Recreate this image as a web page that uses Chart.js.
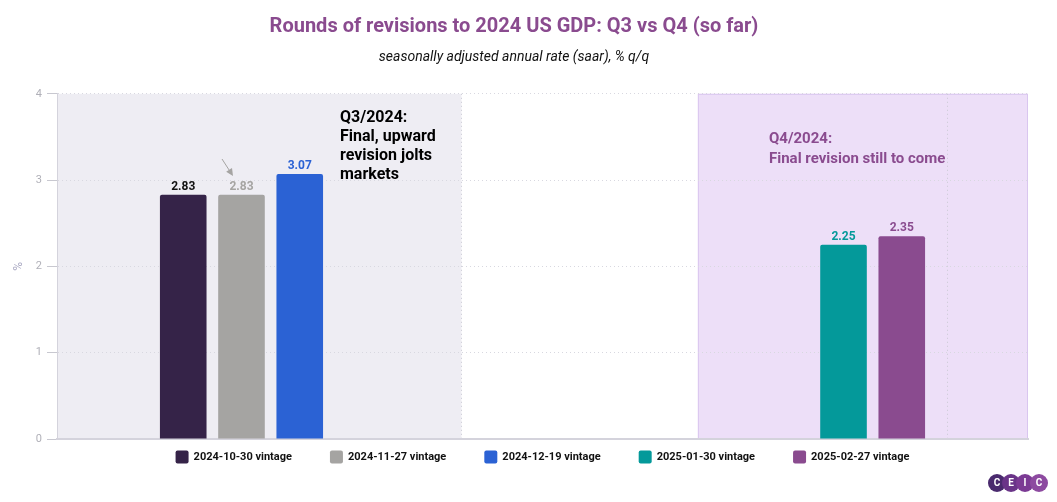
<!DOCTYPE html>
<html>
<head>
<meta charset="utf-8">
<script src="https://cdn.jsdelivr.net/npm/chart.js@4"></script>
<style>
  html, body { margin: 0; padding: 0; background: #fff; }
  #wrap { width: 1057px; height: 502px; }
</style>
</head>
<body>
<div id="wrap"><canvas id="myChart"></canvas></div>
<script>
// data
const quarters = ['Q3/2024', 'Q4/2024'];
const vintages = ['2024-10-30 vintage', '2024-11-27 vintage', '2024-12-19 vintage', '2025-01-30 vintage', '2025-02-27 vintage'];
const q3Values = [2.83, 2.83, 3.07, null, null];
const q4Values = [null, null, null, 2.25, 2.35];
const barColors = ['#352348', '#a5a4a2', '#2b62d4', '#04999a', '#8a4b8f'];
const labelColors = ['#111111', '#a5a4a2', '#2b62d4', '#04999a', '#8a4b8f'];
const yTicks = [0, 1, 2, 3, 4];

const FONT = 'Roboto, "Noto Sans", sans-serif';

const datasets = vintages.map((name, i) => ({
  label: name,
  data: [q3Values[i], q4Values[i]],
  backgroundColor: barColors[i],
  borderRadius: 2,
  borderSkipped: 'bottom',
  barPercentage: 0.8,
  categoryPercentage: 0.6
}));

// shaded quarter boxes + vertical dotted lines, drawn under the grid
const backdrop = {
  id: 'backdrop',
  beforeDraw(chart) {
    const { ctx, chartArea: a, scales: { x } } = chart;
    const q3Right = x.getPixelForValue(0.333);
    const q4Left = x.getPixelForValue(0.82);
    ctx.save();
    ctx.fillStyle = '#eeedf3';
    ctx.fillRect(a.left, a.top, q3Right - a.left, a.bottom - a.top);
    ctx.fillStyle = '#eddff8';
    ctx.fillRect(q4Left, a.top, a.right - q4Left, a.bottom - a.top);
    ctx.strokeStyle = '#d9c6ef';
    ctx.lineWidth = 1;
    ctx.strokeRect(q4Left + 0.5, a.top + 0.5, a.right - q4Left - 1, a.bottom - a.top - 1);

    ctx.setLineDash([1, 3]);
    ctx.strokeStyle = '#c9c9d3';
    [0.333, 1.333].forEach(v => {
      const px = Math.round(x.getPixelForValue(v)) + 0.5;
      ctx.beginPath();
      ctx.moveTo(px, a.top);
      ctx.lineTo(px, a.bottom);
      ctx.stroke();
    });
    ctx.restore();
  }
};

// value labels, notes, arrow, legend and logo
const overlay = {
  id: 'overlay',
  afterDatasetsDraw(chart) {
    const { ctx, chartArea: a } = chart;
    ctx.save();
    ctx.font = 'bold 12px ' + FONT;
    ctx.textAlign = 'center';
    ctx.textBaseline = 'bottom';
    chart.data.datasets.forEach((ds, i) => {
      const meta = chart.getDatasetMeta(i);
      meta.data.forEach((bar, j) => {
        const v = ds.data[j];
        if (v === null) return;
        ctx.fillStyle = labelColors[i];
        ctx.fillText(v.toFixed(2), bar.x, bar.y - 2);
      });
    });

    // notes
    ctx.textAlign = 'left';
    ctx.textBaseline = 'alphabetic';
    ctx.fillStyle = '#000';
    ctx.font = 'bold 16px ' + FONT;
    ['Q3/2024:', 'Final, upward', 'revision jolts', 'markets'].forEach((t, k) => {
      ctx.fillText(t, 340, 122 + k * 19);
    });
    ctx.fillStyle = '#8a4b8f';
    ctx.font = 'bold 15px ' + FONT;
    ctx.fillText('Q4/2024:', 769, 143);
    ctx.fillText('Final revision still to come', 769, 163);

    // arrow to the unchanged second estimate
    const x0 = 222, y0 = 159, x1 = 233, y1 = 176;
    const ang = Math.atan2(y1 - y0, x1 - x0);
    ctx.strokeStyle = '#a5a4a2';
    ctx.fillStyle = '#a5a4a2';
    ctx.lineWidth = 1;
    ctx.beginPath();
    ctx.moveTo(x0, y0);
    ctx.lineTo(x1 - 4 * Math.cos(ang), y1 - 4 * Math.sin(ang));
    ctx.stroke();
    ctx.beginPath();
    ctx.moveTo(x1, y1);
    ctx.lineTo(x1 - 8 * Math.cos(ang - 0.45), y1 - 8 * Math.sin(ang - 0.45));
    ctx.lineTo(x1 - 8 * Math.cos(ang + 0.45), y1 - 8 * Math.sin(ang + 0.45));
    ctx.closePath();
    ctx.fill();

    // legend
    ctx.font = 'bold 11px ' + FONT;
    ctx.textBaseline = 'middle';
    const gap = 38, box = 13, legY = 457;
    const widths = vintages.map(t => box + 5 + ctx.measureText(t).width);
    const total = widths.reduce((s, w) => s + w, 0) + gap * (vintages.length - 1);
    let lx = (a.left + a.right) / 2 - total / 2;
    vintages.forEach((t, i) => {
      ctx.fillStyle = barColors[i];
      ctx.beginPath();
      ctx.roundRect(lx, legY - box / 2, box, box, 2);
      ctx.fill();
      ctx.fillStyle = '#111';
      ctx.fillText(t, lx + box + 5, legY + 0.5);
      lx += widths[i] + gap;
    });

    // CEIC logo
    const logo = ['C', 'E', 'I', 'C'];
    const logoCols = ['#4a2a6e', '#6a3488', '#7b3a94', '#8d4aa0'];
    logo.forEach((c, k) => {
      ctx.fillStyle = logoCols[k];
      ctx.beginPath();
      ctx.arc(997 + k * 14, 483, 9, 0, Math.PI * 2);
      ctx.fill();
    });
    ctx.fillStyle = '#fff';
    ctx.font = 'bold 10px ' + FONT;
    ctx.textAlign = 'center';
    logo.forEach((c, k) => ctx.fillText(c, 997 + k * 14, 483.5));
    ctx.restore();
  }
};

const chart1 = new Chart(document.getElementById('myChart').getContext('2d'), {
  type: 'bar',
  data: {
    labels: quarters,
    datasets: datasets
  },
  options: {
    responsive: true,
    maintainAspectRatio: false,
    animation: false,
    layout: { padding: { left: 0, right: 29, top: 8, bottom: 61 } },
    plugins: {
      title: {
        display: true,
        text: 'Rounds of revisions to 2024 US GDP: Q3 vs Q4 (so far)',
        color: '#8a4b8f',
        font: { family: FONT, size: 20, weight: 'bold' },
        padding: { top: 7, bottom: 10 }
      },
      subtitle: {
        display: true,
        text: 'seasonally adjusted annual rate (saar), % q/q',
        color: '#111',
        font: { family: FONT, size: 14, style: 'italic' },
        padding: { top: 0, bottom: 28 }
      },
      legend: { display: false },
      tooltip: { enabled: false }
    },
    scales: {
      x: {
        afterFit(scale) { scale.height = 2; },
        grid: { display: false },
        border: { color: '#d4d3dc', width: 2 },
        ticks: { display: false }
      },
      y: {
        min: 0,
        max: 4,
        afterFit(scale) { scale.width = 57; },
        afterBuildTicks(scale) { scale.ticks = yTicks.map(v => ({ value: v })); },
        title: {
          display: true,
          text: '%',
          color: '#a9a8c2',
          font: { family: FONT, size: 12 },
          padding: { top: 12, bottom: 0 }
        },
        ticks: {
          color: '#b0b0b8',
          font: { family: FONT, size: 11 },
          padding: 5
        },
        border: { color: '#d4d3dc', dash: [1, 3] },
        grid: {
          color: '#d8d8e0',
          tickColor: '#c8c8d0',
          tickLength: 10,
          tickBorderDash: [],
          drawTicks: true
        }
      }
    }
  },
  plugins: [backdrop, overlay]
});
</script>
</body>
</html>
